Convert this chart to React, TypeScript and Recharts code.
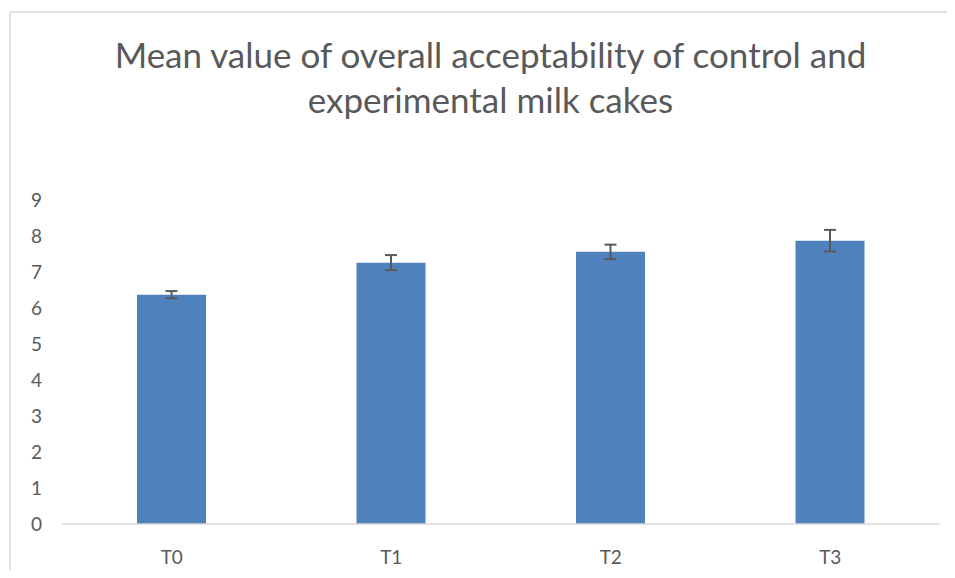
import type { JSX } from "react";
import { BarChart, Bar, XAxis, YAxis, ErrorBar } from "recharts";

const categories = ["T0", "T1", "T2", "T3"];
const means = [6.37, 7.26, 7.56, 7.87];
const errors = [0.1, 0.21, 0.2, 0.3];
const yTicks = [0, 1, 2, 3, 4, 5, 6, 7, 8, 9];

const data = categories.map((name, i) => ({
  name,
  value: means[i],
  err: errors[i],
}));

const FONT = "Lato, 'Open Sans', sans-serif";
const FRAME = "#e2e2e2";

const App = (): JSX.Element => {
  return (
    <div
      style={{
        position: "relative",
        width: 900,
        height: 562,
        fontFamily: FONT,
      }}
    >
      <style>
        {
          "html,body{overflow:hidden;scrollbar-width:none}::-webkit-scrollbar{display:none}"
        }
      </style>
      {/* chart frame, only top and left edges are visible */}
      <div
        style={{
          position: "absolute",
          left: 1,
          top: 3,
          width: 946,
          height: 2,
          background: FRAME,
        }}
      />
      <div
        style={{
          position: "absolute",
          left: 1,
          top: 3,
          width: 2,
          height: 567,
          background: FRAME,
        }}
      />
      <div
        style={{
          position: "absolute",
          left: 0,
          top: 24,
          width: 947,
          paddingLeft: 18,
          boxSizing: "border-box",
          textAlign: "center",
          color: "#595959",
          fontSize: 35,
          lineHeight: "45px",
          whiteSpace: "nowrap",
        }}
      >
        Mean value of overall acceptability of control and
        <br />
        experimental milk cakes
      </div>
      <div style={{ position: "absolute", left: 0, top: 0 }}>
        <BarChart
          width={947}
          height={570}
          data={data}
          margin={{ top: 192, right: 15, bottom: 0, left: 0 }}
        >
          <XAxis
            dataKey="name"
            axisLine={{ stroke: "#d9d9d9", strokeWidth: 1.5 }}
            tickLine={false}
            tickMargin={21}
            height={54}
            tick={{ fill: "#595959", fontSize: 19, fontFamily: FONT }}
          />
          <YAxis
            domain={[0, 9]}
            ticks={yTicks}
            interval={0}
            axisLine={false}
            tickLine={false}
            tickSize={0}
            tickMargin={20}
            width={54}
            tick={{ fill: "#595959", fontSize: 19, fontFamily: FONT }}
          />
          <Bar
            dataKey="value"
            fill="#4f81bd"
            barSize={69}
            isAnimationActive={false}
          >
            <ErrorBar
              dataKey="err"
              width={6}
              stroke="#595959"
              strokeWidth={2}
              isAnimationActive={false}
            />
          </Bar>
        </BarChart>
      </div>
    </div>
  );
};

export default App;
